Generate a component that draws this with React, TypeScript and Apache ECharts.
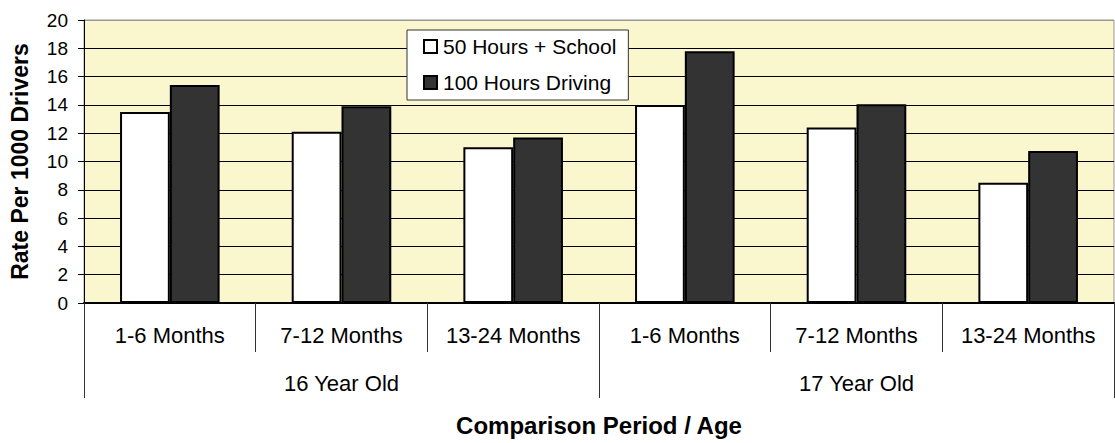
import React, { useEffect, useRef } from "react";
import * as echarts from "echarts";

const periods = ["1-6 Months", "7-12 Months", "13-24 Months", "1-6 Months", "7-12 Months", "13-24 Months"];
const ages = ["16 Year Old", "17 Year Old"];
const school50 = [13.5, 12.1, 11.0, 14.0, 12.4, 8.5];
const driving100 = [15.4, 13.9, 11.7, 17.8, 14.05, 10.75];
const yTicks = { min: 0, max: 20, interval: 2 };

const FONT = "Liberation Sans, Arial, sans-serif";

export default function App() {
  const ref = useRef<HTMLDivElement>(null);
  useEffect(() => {
    if (!ref.current) return;
    const chart = echarts.init(ref.current, null, { renderer: "svg" });
    const splitColors = ["#000", "#000", "#000", "#000", "#000", "#000", "#000", "#000", "#000", "#000", "#999"];
    chart.setOption({
      animation: false,
      backgroundColor: "#fff",
      textStyle: { fontFamily: FONT },
      grid: {
        left: 84,
        top: 20,
        right: 1,
        bottom: 140,
        show: true,
        containLabel: false,
        outerBoundsMode: "none",
        backgroundColor: "#FAF6CD",
        borderColor: "#999",
        borderWidth: 1,
      },
      legend: {
        orient: "vertical",
        left: 407,
        top: 30,
        backgroundColor: "#fff",
        borderColor: "#333",
        borderWidth: 1,
        borderRadius: 0,
        padding: [6, 12, 7, 16],
        itemGap: 15,
        itemWidth: 13,
        itemHeight: 13,
        icon: "rect",
        textStyle: { fontSize: 21, color: "#000", fontFamily: FONT, padding: [0, 0, 0, 1] },
        data: ["50 Hours + School", "100 Hours Driving"],
      },
      xAxis: [
        {
          type: "category",
          data: periods,
          position: "bottom",
          axisLine: { show: true, lineStyle: { color: "#000", width: 2 } },
          axisTick: { show: true, length: 49, interval: 0, lineStyle: { color: "#333", width: 1 } },
          axisLabel: { interval: 0, fontSize: 22, color: "#000", margin: 21, fontFamily: FONT },
          name: "Comparison Period / Age",
          nameLocation: "middle",
          nameGap: 110,
          nameTextStyle: { fontSize: 24, fontWeight: "bold", color: "#000", fontFamily: FONT },
        },
        {
          type: "category",
          data: ages,
          position: "bottom",
          axisLine: { show: false },
          axisTick: { show: true, length: 95, interval: 0, lineStyle: { color: "#333", width: 1 } },
          axisLabel: { interval: 0, fontSize: 22, color: "#000", margin: 69, fontFamily: FONT },
        },
      ],
      yAxis: {
        type: "value",
        min: yTicks.min,
        max: yTicks.max,
        interval: yTicks.interval,
        axisLine: { show: true, lineStyle: { color: "#000", width: 1 } },
        axisTick: { show: true, length: 6, lineStyle: { color: "#000" } },
        axisLabel: { fontSize: 19, color: "#000", margin: 16, fontFamily: FONT },
        splitLine: { show: true, lineStyle: { color: splitColors, width: 1 } },
        name: "Rate Per 1000 Drivers",
        nameLocation: "middle",
        nameRotate: 90,
        nameGap: 53,
        nameTextStyle: { fontSize: 23, fontWeight: "bold", color: "#000", fontFamily: FONT },
      },
      series: [
        {
          name: "50 Hours + School",
          type: "bar",
          xAxisIndex: 0,
          data: school50,
          barGap: "0%",
          barCategoryGap: "42%",
          itemStyle: { color: "#FFFFFF", borderColor: "#000", borderWidth: 2 },
        },
        {
          name: "100 Hours Driving",
          type: "bar",
          xAxisIndex: 0,
          data: driving100,
          barGap: "0%",
          barCategoryGap: "42%",
          itemStyle: { color: "#333333", borderColor: "#000", borderWidth: 2 },
        },
      ],
    });
    return () => chart.dispose();
  }, []);
  return (
    <div
      ref={ref}
      style={{ position: "fixed", left: 0, top: 0, width: 1115, height: 443 }}
    />
  );
}
